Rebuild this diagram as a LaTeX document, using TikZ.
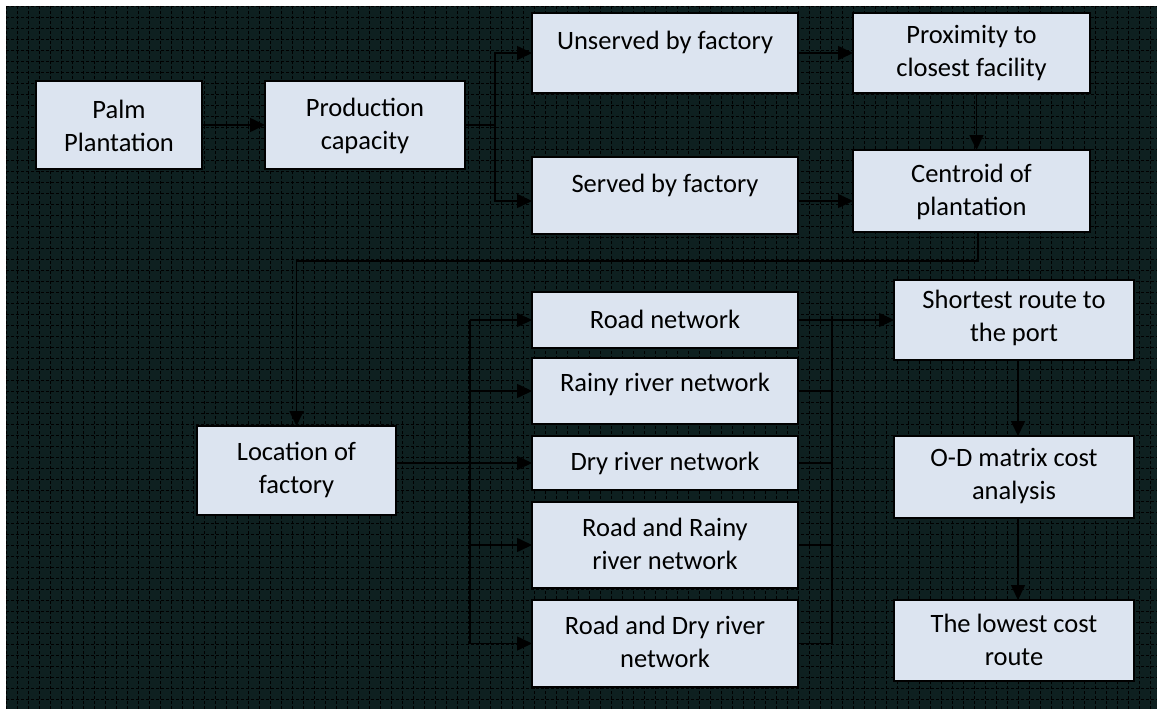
\documentclass[tikz,border=0pt]{standalone}
\usepackage{fontspec}
\setmainfont{Carlito}
\usetikzlibrary{arrows.meta,calc}
\definecolor{bgcol}{RGB}{14,32,32}
\definecolor{boxfill}{RGB}{220,228,240}
\newcommand{\mkbox}[5]{%
  \node[box, anchor=north west, minimum width={#4-#2}, minimum height={#5-#3}] (#1) at (#2,#3) {};}
\begin{document}
\begin{tikzpicture}[x=1pt,y=-1pt,
  box/.style={draw=black, line width=1.6pt, fill=boxfill, inner sep=0pt, outer sep=0pt},
  txt/.style={font=\fontsize{26.5}{33}\selectfont, align=center, inner sep=0pt, text=black},
  conn/.style={line width=1.6pt, draw=black},
  arr/.style={conn, -{Triangle[length=15pt,width=14pt]}},
  gridline/.style={black, line width=0.6pt, dash pattern=on 3pt off 2pt}]
\useasboundingbox (0,0) rectangle (1157,709);
\fill[bgcol] (0,0) rectangle (1162,715);
\fill[white] (0,0) rectangle (1162,6);
\fill[white] (0,0) rectangle (6,715);
\foreach \gx in {6,17,...,1157} \draw[gridline] (\gx,6) -- (\gx,715);
\foreach \gy in {6,17,...,710} \draw[gridline] (6,\gy) -- (1162,\gy);

% boxes
\mkbox{palm}{36}{81}{202}{169}
\mkbox{prod}{265}{81}{465}{169}
\mkbox{unserved}{532}{13}{798}{93}
\mkbox{served}{532}{157}{798}{234}
\mkbox{prox}{853}{13}{1090}{93}
\mkbox{centroid}{853}{150}{1090}{232}
\mkbox{location}{197}{426}{396}{515}
\mkbox{road}{532}{292}{798}{348}
\mkbox{rainy}{532}{358}{798}{424}
\mkbox{dry}{532}{436}{798}{490}
\mkbox{roadrainy}{532}{502}{798}{588}
\mkbox{roaddry}{532}{600}{798}{687}
\mkbox{shortest}{894}{280}{1134}{360}
\mkbox{od}{894}{436}{1134}{518}
\mkbox{lowest}{894}{600}{1134}{681}

% texts
\node[txt] (palm-t) at (119,126) {Palm\\Plantation};
\node[txt] (prod-t) at (365,126) {Production\\capacity};
\node[txt] (unserved-t) at (665,42) {Unserved by factory};
\node[txt] (served-t) at (665,185) {Served by factory};
\node[txt] (prox-t) at (971.5,53) {Proximity to\\closest facility};
\node[txt] (centroid-t) at (971.5,192) {Centroid of\\plantation};
\node[txt] (location-t) at (296.5,470) {Location of\\factory};
\node[txt] (road-t) at (665,319) {Road network};
\node[txt] (rainy-t) at (665,384) {Rainy river network};
\node[txt] (dry-t) at (665,463) {Dry river network};
\node[txt] (roadrainy-t) at (665,544) {Road and Rainy\\river network};
\node[txt] (roaddry-t) at (665,642) {Road and Dry river\\network};
\node[txt] (shortest-t) at (1014,318) {Shortest route to\\the port};
\node[txt] (od-t) at (1014,476) {O-D matrix cost\\analysis};
\node[txt] (lowest-t) at (1014,640) {The lowest cost\\route};

% top part
\draw[arr] (palm.east) -- (prod.west);
\coordinate (j1) at (495,125);
\draw[conn] (prod.east) -- (j1);
\draw[arr] (j1) |- (unserved.west);
\coordinate (sv) at ($(served.west)+(0,5.5)$);
\draw[arr] (j1) |- (sv);
\draw[arr] (unserved.east) -- (prox.west);
\coordinate (s1) at ($(served.east)+(0,5.5)$);
\draw[arr] (s1) -- (s1 -| centroid.west);
\coordinate (pc) at ($(prox.south)+(5,0)$);
\draw[arr] (pc) -- (pc |- centroid.north);
\coordinate (c1) at (978,261);
\draw[arr] (centroid.south -| c1) -- (c1) -| (location.north);

% left bus
\coordinate (lbus) at (470,0);
\draw[conn] (location.east |- dry.west) -- (dry.west -| lbus);
\draw[conn] (road.west -| lbus) -- (roaddry.west -| lbus);
\foreach \b in {road,rainy,dry,roadrainy,roaddry}
  \draw[arr] (\b.west -| lbus) -- (\b.west);

% right bus
\coordinate (rbus) at (832,0);
\draw[conn] ($(road.east -| rbus)+(0,-4)$) -- (roaddry.east -| rbus);
\foreach \b in {rainy,dry,roadrainy,roaddry}
  \draw[conn] (\b.east) -- (\b.east -| rbus);
\draw[arr] (road.east) -- (road.east -| shortest.west);

% right column
\coordinate (sx) at (1018,0);
\draw[arr] (shortest.south -| sx) -- (od.north -| sx);
\draw[arr] (od.south -| sx) -- (lowest.north -| sx);
\end{tikzpicture}
\end{document}
